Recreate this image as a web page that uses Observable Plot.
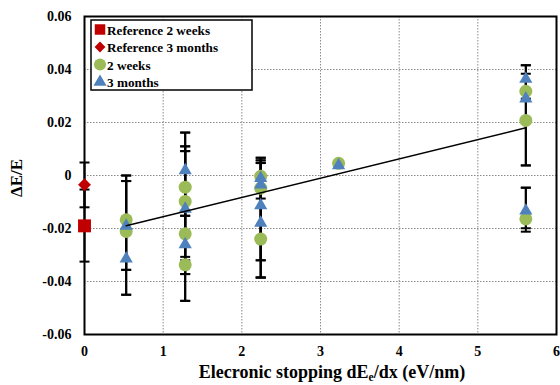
<!DOCTYPE html>
<html>
<head>
<meta charset="utf-8">
<script src="https://cdn.jsdelivr.net/npm/d3@7"></script>
<script src="https://cdn.jsdelivr.net/npm/@observablehq/plot@0.6"></script>
<style>
  html, body { margin: 0; padding: 0; background: white; }
  #chart svg, #chart svg text, #chart svg tspan { font-family: 'Liberation Serif', 'Times New Roman', Times, 'DejaVu Serif', serif !important; font-weight: bold; }
</style>
</head>
<body>
<div id="chart"></div>
<script>
// Axis ticks
const xTicks = [0, 1, 2, 3, 4, 5, 6];
const yTicks = [-0.06, -0.04, -0.02, 0, 0.02, 0.04, 0.06];
const yTickLabels = ["-0.06", "-0.04", "-0.02", "0", "0.02", "0.04", "0.06"];

// Series names
const seriesNames = ["Reference 2 weeks", "Reference 3 months", "2 weeks", "3 months"];

// Reference 2 weeks
const ref2wX = [0];
const ref2wY = [-0.019];
const ref2wLo = [-0.0325];
const ref2wHi = [-0.0053];

// Reference 3 months
const ref3mX = [0];
const ref3mY = [-0.0035];
const ref3mLo = [-0.012];
const ref3mHi = [0.0049];

// 2 weeks
const w2X  = [0.53, 0.53, 1.28, 1.28, 1.28, 1.28, 2.24, 2.24, 2.24, 3.23, 5.61, 5.61, 5.61];
const w2Y  = [-0.0167, -0.0211, -0.0044, -0.0098, -0.022, -0.0337, -0.0003, -0.0048, -0.024, 0.0046, 0.0318, 0.0208, -0.0164];
const w2Lo = [-0.0356, -0.0356, -0.0372, -0.032, -0.0307, -0.0372, -0.0087, -0.032, -0.0385, null, null, 0.0038, -0.0212];
const w2Hi = [0.0, -0.0021, 0.011, 0.0092, 0.011, -0.0152, 0.0057, 0.0047, 0.0067, null, null, 0.0384, -0.0046];

// 3 months
const m3X  = [0.53, 0.53, 1.28, 1.28, 1.28, 2.24, 2.24, 2.24, 2.24, 3.23, 5.61, 5.61, 5.61];
const m3Y  = [-0.019, -0.0314, 0.0019, -0.0126, -0.026, -0.001, -0.0035, -0.0113, -0.0179, 0.0038, 0.0364, 0.029, -0.0133];
const m3Lo = [-0.045, -0.045, -0.0152, -0.0473, -0.0473, -0.032, -0.0385, -0.0385, null, null, 0.029, 0.0038, -0.0199];
const m3Hi = [-0.0021, 0.0, 0.0162, 0.0162, 0.0092, 0.0067, 0.0057, 0.0047, null, null, 0.0416, 0.0416, -0.0046];

// Linear trend line
const trendX = [0.53, 5.61];
const trendY = [-0.019, 0.018];

// Build tables
function table(xs, ys, los, his) {
  return xs.map((x, i) => ({x, y: ys[i], lo: los[i], hi: his[i]}));
}
const ref2w = table(ref2wX, ref2wY, ref2wLo, ref2wHi);
const ref3m = table(ref3mX, ref3mY, ref3mLo, ref3mHi);
const w2 = table(w2X, w2Y, w2Lo, w2Hi);
const m3 = table(m3X, m3Y, m3Lo, m3Hi);
const errs = [...ref2w, ...ref3m, ...w2, ...m3].filter(d => d.lo != null && d.hi != null);
const trend = trendX.map((x, i) => ({x, y: trendY[i]}));

const RED = "#C00000", GREEN = "#9BBB59", BLUE = "#4F81BD";
const FONT = "'Liberation Serif', 'Times New Roman', Times, 'DejaVu Serif', serif";

// Horizontal cap symbol
const capSymbol = {
  draw(context, size) {
    const w = 5;
    context.moveTo(-w, 0);
    context.lineTo(w, 0);
  }
};

const chart = Plot.plot({
  width: 560,
  height: 385,
  marginLeft: 84,
  marginRight: 4,
  marginTop: 16,
  marginBottom: 51,
  x: {domain: [0, 6]},
  y: {domain: [-0.06, 0.06]},
  style: {fontFamily: FONT, fontWeight: "bold", fontSize: "14px", color: "black", background: "white"},
  marks: [
    Plot.gridX(xTicks, {stroke: "#8a8a8a", strokeOpacity: 1, strokeDasharray: "1.5,1.5"}),
    Plot.gridY(yTicks, {stroke: "#8a8a8a", strokeOpacity: 1, strokeDasharray: "1.5,1.5"}),
    Plot.axisX(xTicks, {tickSize: 0, tickPadding: 12, label: null, fontSize: 14, tickFormat: d => String(d)}),
    Plot.axisY(yTicks, {tickSize: 0, tickPadding: 13, label: null, fontSize: 14, tickFormat: d => yTickLabels[yTicks.indexOf(d)]}),
    Plot.frame({stroke: "black", strokeWidth: 2}),
    // error bars
    Plot.ruleX(errs, {x: "x", y1: "lo", y2: "hi", stroke: "black", strokeWidth: 2}),
    Plot.dot(errs, {x: "x", y: "lo", symbol: capSymbol, stroke: "black", fill: "none", strokeWidth: 2}),
    Plot.dot(errs, {x: "x", y: "hi", symbol: capSymbol, stroke: "black", fill: "none", strokeWidth: 2}),
    // series
    Plot.dot(w2, {x: "x", y: "y", symbol: "circle", r: 6.5, fill: GREEN, stroke: "none"}),
    Plot.dot(m3, {x: "x", y: "y", symbol: "triangle", r: 4.9, fill: BLUE, stroke: "none"}),
    Plot.dot(ref2w, {x: "x", y: "y", symbol: "square", r: 7.3, fill: RED, stroke: "none"}),
    Plot.dot(ref3m, {x: "x", y: "y", symbol: "diamond2", r: 5.8, fill: RED, stroke: "none"}),
    // trend
    Plot.line(trend, {x: "x", y: "y", stroke: "black", strokeWidth: 1.5})
  ]
});

document.getElementById("chart").appendChild(chart);

// Titles and legend
const svg = d3.select(chart);

svg.append("text")
  .attr("transform", "translate(22,178) rotate(-90)")
  .attr("text-anchor", "middle")
  .attr("font-size", 17)
  .attr("fill", "black")
  .text("ΔE/E");

const xl = svg.append("text")
  .attr("x", 332)
  .attr("y", 378)
  .attr("text-anchor", "middle")
  .attr("font-size", 18)
  .attr("fill", "black");
xl.append("tspan").text("Elecronic stopping dE");
xl.append("tspan").attr("font-size", 11.5).attr("dy", 3).text("e");
xl.append("tspan").attr("dy", -3).text("/dx (eV/nm)");

const lg = svg.append("g").attr("text-anchor", "start");
lg.append("rect")
  .attr("x", 91).attr("y", 20).attr("width", 161).attr("height", 70)
  .attr("fill", "white").attr("stroke", "black").attr("stroke-width", 1.5);
const legendSymbols = [
  {sym: d3.symbolSquare, size: 110, color: RED},
  {sym: d3.symbolDiamond2, size: 75, color: RED},
  {sym: d3.symbolCircle, size: 115, color: GREEN},
  {sym: d3.symbolTriangle, size: 75, color: BLUE}
];
const rowY = [29.5, 47, 64.5, 82];
seriesNames.forEach((name, i) => {
  lg.append("path")
    .attr("transform", `translate(100,${rowY[i]})`)
    .attr("d", d3.symbol(legendSymbols[i].sym, legendSymbols[i].size)())
    .attr("fill", legendSymbols[i].color);
  lg.append("text")
    .attr("x", 107).attr("y", rowY[i] + 5)
    .attr("text-anchor", "start")
    .attr("font-size", 13.2)
    .attr("fill", "black")
    .text(name);
});
</script>
</body>
</html>
